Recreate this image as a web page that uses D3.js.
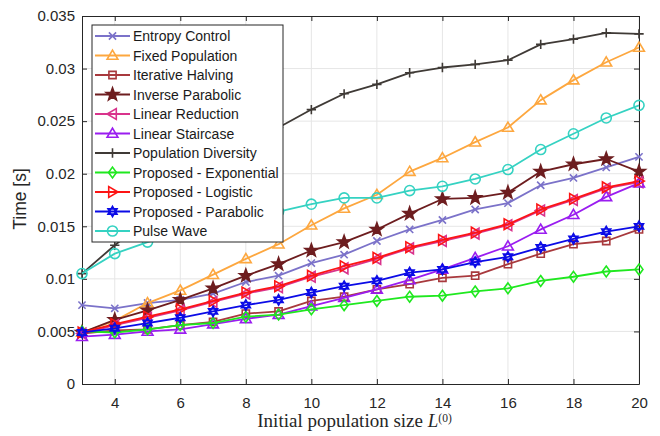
<!DOCTYPE html>
<html>
<head>
<meta charset="utf-8">
<script src="https://cdn.jsdelivr.net/npm/d3@7"></script>
<style>
  html, body { margin: 0; padding: 0; background: #fff; }
  svg { display: block; }
</style>
</head>
<body>
<svg id="chart"></svg>
<script>
// Initial population size L(0)
const popSizes = [3, 4, 5, 6, 7, 8, 9, 10, 11, 12, 13, 14, 15, 16, 17, 18, 19, 20];

// Time [s] per strategy
const entropyControl   = [0.0075, 0.0072, 0.0077, 0.0080, 0.0086, 0.0097, 0.0103, 0.0115, 0.0123, 0.0136, 0.0147, 0.0156, 0.0166, 0.0172, 0.0189, 0.0196, 0.0206, 0.0216];
const fixedPopulation  = [0.0049, 0.0060, 0.0077, 0.0089, 0.0104, 0.0119, 0.0133, 0.0151, 0.0167, 0.0180, 0.0202, 0.0215, 0.0230, 0.0244, 0.0270, 0.0289, 0.0306, 0.0320];
const iterHalving      = [0.0048, 0.0051, 0.0052, 0.0056, 0.0059, 0.0067, 0.0069, 0.0079, 0.0083, 0.0090, 0.0095, 0.0101, 0.0103, 0.0114, 0.0124, 0.0133, 0.0136, 0.0147];
const inverseParabolic = [0.0049, 0.0061, 0.0070, 0.0080, 0.0091, 0.0103, 0.0114, 0.0127, 0.0135, 0.0147, 0.0162, 0.0176, 0.0177, 0.0182, 0.0202, 0.0209, 0.0214, 0.0202];
const linearReduction  = [0.0048, 0.0056, 0.0063, 0.0070, 0.0078, 0.0086, 0.0092, 0.0102, 0.0110, 0.0119, 0.0129, 0.0136, 0.0143, 0.0151, 0.0165, 0.0175, 0.0186, 0.0192];
const linearStaircase  = [0.0045, 0.0047, 0.0050, 0.0052, 0.0057, 0.0062, 0.0066, 0.0074, 0.0082, 0.0090, 0.0099, 0.0109, 0.0120, 0.0131, 0.0147, 0.0161, 0.0178, 0.0191];
const popDiversity     = [0.0105, 0.0132, 0.0157, 0.0181, 0.0204, 0.0225, 0.0244, 0.0261, 0.0276, 0.0285, 0.0296, 0.0301, 0.0304, 0.0308, 0.0323, 0.0328, 0.0334, 0.0333];
const propExponential  = [0.0050, 0.0049, 0.0052, 0.0056, 0.0058, 0.0064, 0.0066, 0.0071, 0.0075, 0.0079, 0.0083, 0.0084, 0.0088, 0.0091, 0.0098, 0.0102, 0.0107, 0.0109];
const propLogistic     = [0.0049, 0.0057, 0.0064, 0.0071, 0.0079, 0.0087, 0.0093, 0.0103, 0.0112, 0.0120, 0.0130, 0.0137, 0.0144, 0.0152, 0.0166, 0.0176, 0.0187, 0.0193];
const propParabolic    = [0.0049, 0.0053, 0.0058, 0.0063, 0.0069, 0.0075, 0.0080, 0.0087, 0.0093, 0.0098, 0.0106, 0.0109, 0.0116, 0.0121, 0.0130, 0.0138, 0.0145, 0.0150];
const pulseWave        = [0.0105, 0.0124, 0.0135, 0.0143, 0.0151, 0.0158, 0.0164, 0.0171, 0.0177, 0.0177, 0.0184, 0.0188, 0.0195, 0.0204, 0.0223, 0.0238, 0.0253, 0.0265];

const xTicks = [4, 6, 8, 10, 12, 14, 16, 18, 20];
const yTicks = [0, 0.005, 0.01, 0.015, 0.02, 0.025, 0.03, 0.035];

const series = [
  { name: 'Entropy Control',          values: entropyControl,   color: '#7b72c9', marker: 'x' },
  { name: 'Fixed Population',         values: fixedPopulation,  color: '#fda73f', marker: 'tri-up' },
  { name: 'Iterative Halving',        values: iterHalving,      color: '#a8393d', marker: 'square' },
  { name: 'Inverse Parabolic',        values: inverseParabolic, color: '#6d1d1f', marker: 'star', filled: true },
  { name: 'Linear Reduction',         values: linearReduction,  color: '#d9338c', marker: 'tri-left' },
  { name: 'Linear Staircase',         values: linearStaircase,  color: '#9a1df0', marker: 'tri-up' },
  { name: 'Population Diversity',     values: popDiversity,     color: '#3f3a36', marker: 'plus' },
  { name: 'Proposed - Exponential',   values: propExponential,  color: '#1fe81f', marker: 'diamond' },
  { name: 'Proposed - Logistic',      values: propLogistic,     color: '#fd1414', marker: 'tri-right' },
  { name: 'Proposed - Parabolic',     values: propParabolic,    color: '#0b0be6', marker: 'hexagram' },
  { name: 'Pulse Wave',               values: pulseWave,        color: '#35d2c2', marker: 'circle' }
];

// marker path around (0,0)
function markerPath(type, s) {
  switch (type) {
    case 'x': return `M${-s},${-s}L${s},${s}M${-s},${s}L${s},${-s}`;
    case 'plus': return `M${-s * 1.3},0H${s * 1.3}M0,${-s * 1.3}V${s * 1.3}`;
    case 'square': return `M${-s},${-s}H${s}V${s}H${-s}Z`;
    case 'tri-up': return `M0,${-s * 1.5}L${s * 1.5},${s * 1.05}L${-s * 1.5},${s * 1.05}Z`;
    case 'tri-left': return `M${-s * 1.5},0L${s * 1.05},${-s * 1.5}L${s * 1.05},${s * 1.5}Z`;
    case 'tri-right': return `M${s * 1.5},0L${-s * 1.05},${-s * 1.5}L${-s * 1.05},${s * 1.5}Z`;
    case 'diamond': return `M0,${-s * 1.5}L${s * 1.1},0L0,${s * 1.5}L${-s * 1.1},0Z`;
    case 'circle': return d3.arc()({ innerRadius: 0, outerRadius: s * 1.4, startAngle: 0, endAngle: 2 * Math.PI });
    case 'star': {
      const pts = [];
      for (let i = 0; i < 10; i++) {
        const r = i % 2 === 0 ? s * 1.85 : s * 0.75;
        const a = -Math.PI / 2 + i * Math.PI / 5;
        pts.push([r * Math.cos(a), r * Math.sin(a)]);
      }
      return 'M' + pts.map(p => p.join(',')).join('L') + 'Z';
    }
    case 'hexagram': {
      const r = s * 1.45;
      const tri = off => [0, 1, 2].map(i => {
        const a = off + i * 2 * Math.PI / 3;
        return [r * Math.cos(a), r * Math.sin(a)];
      });
      const t1 = tri(-Math.PI / 2), t2 = tri(Math.PI / 2);
      return 'M' + t1.map(p => p.join(',')).join('L') + 'Z' +
             'M' + t2.map(p => p.join(',')).join('L') + 'Z';
    }
  }
}

const W = 660, H = 436;
const margin = { top: 16, right: 21, bottom: 52, left: 82 };
const width = W - margin.left - margin.right;
const height = H - margin.top - margin.bottom;

const svg = d3.select('#chart').attr('width', W).attr('height', H);
const g = svg.append('g').attr('transform', `translate(${margin.left},${margin.top})`);

const x = d3.scaleLinear().domain([3, 20]).range([0, width]);
const y = d3.scaleLinear().domain([0, 0.035]).range([height, 0]);

const axisColor = '#262626';
const fontSans = 'Liberation Sans, Arial, sans-serif';

// Grid
g.append('g')
  .selectAll('line').data(xTicks).join('line')
  .attr('x1', d => x(d)).attr('x2', d => x(d))
  .attr('y1', 0).attr('y2', height)
  .attr('stroke', '#e6e6e6').attr('stroke-width', 1);

g.append('g')
  .selectAll('line').data(yTicks.slice(1, -1)).join('line')
  .attr('x1', 0).attr('x2', width)
  .attr('y1', d => y(d)).attr('y2', d => y(d))
  .attr('stroke', '#e6e6e6').attr('stroke-width', 1);

// Axes (MATLAB-style box with inward ticks)
const fmtY = d => d === 0 ? '0' : String(+d.toFixed(3));

g.append('g').attr('transform', `translate(0,${height})`)
  .call(d3.axisBottom(x).tickValues(xTicks).tickSizeInner(-5).tickSizeOuter(0).tickPadding(13))
  .call(ax => ax.select('.domain').attr('stroke', axisColor))
  .call(ax => ax.selectAll('line').attr('stroke', axisColor))
  .call(ax => ax.selectAll('text').attr('fill', '#262626').attr('font-size', 15).attr('font-family', fontSans));

g.append('g')
  .call(d3.axisLeft(y).tickValues(yTicks).tickFormat(fmtY).tickSizeInner(-5).tickSizeOuter(0).tickPadding(7))
  .call(ax => ax.select('.domain').attr('stroke', axisColor))
  .call(ax => ax.selectAll('line').attr('stroke', axisColor))
  .call(ax => ax.selectAll('text').attr('fill', '#262626').attr('font-size', 15).attr('font-family', fontSans));

g.append('g')
  .call(d3.axisTop(x).tickValues(xTicks).tickSizeInner(-5).tickSizeOuter(0).tickFormat(''))
  .call(ax => ax.select('.domain').attr('stroke', axisColor))
  .call(ax => ax.selectAll('line').attr('stroke', axisColor));

g.append('g').attr('transform', `translate(${width},0)`)
  .call(d3.axisRight(y).tickValues(yTicks).tickSizeInner(-5).tickSizeOuter(0).tickFormat(''))
  .call(ax => ax.select('.domain').attr('stroke', axisColor))
  .call(ax => ax.selectAll('line').attr('stroke', axisColor));

// Axis labels
const xLabel = g.append('text')
  .attr('x', width / 2 - 6).attr('y', height + 43)
  .attr('text-anchor', 'middle').attr('fill', '#262626')
  .attr('font-family', 'Liberation Serif, Times New Roman, serif').attr('font-size', 19);
xLabel.append('tspan').text('Initial population size ');
xLabel.append('tspan').attr('font-style', 'italic').text('L');
xLabel.append('tspan').attr('font-size', 11.5).attr('dy', -5.5).text('(0)');

g.append('text')
  .attr('transform', 'rotate(-90)')
  .attr('x', -height / 2 + 1).attr('y', -56)
  .attr('text-anchor', 'middle').attr('fill', '#262626')
  .attr('font-family', fontSans).attr('font-size', 17.5)
  .text('Time [s]');

// Lines and markers
const line = d3.line().x((d, i) => x(popSizes[i])).y(d => y(d));

series.forEach(s => {
  const sg = g.append('g');
  sg.append('path')
    .datum(s.values)
    .attr('d', line)
    .attr('fill', 'none')
    .attr('stroke', s.color)
    .attr('stroke-width', 1.8)
    .attr('stroke-linejoin', 'round');
  sg.selectAll('path.mk')
    .data(s.values)
    .join('path')
    .attr('class', 'mk')
    .attr('transform', (d, i) => `translate(${x(popSizes[i])},${y(d)})`)
    .attr('d', markerPath(s.marker, 3.6))
    .attr('fill', s.filled ? s.color : 'none')
    .attr('stroke', s.color)
    .attr('stroke-width', 1.6)
    .attr('stroke-linejoin', 'miter');
});

// Legend
const legend = svg.append('g').attr('transform', 'translate(92,25)');
const rowH = 19.5;
legend.append('rect')
  .attr('x', 0).attr('y', 0)
  .attr('width', 191).attr('height', 217)
  .attr('fill', '#fff').attr('stroke', '#262626').attr('stroke-width', 1);

const rows = legend.selectAll('g.row')
  .data(series)
  .join('g')
  .attr('class', 'row')
  .attr('transform', (d, i) => `translate(0,${11 + i * rowH})`);

rows.append('line')
  .attr('x1', 3).attr('x2', 38).attr('y1', 0).attr('y2', 0)
  .attr('stroke', d => d.color).attr('stroke-width', 1.8);

rows.append('path')
  .attr('transform', 'translate(20.5,0)')
  .attr('d', d => markerPath(d.marker, 3.6))
  .attr('fill', d => d.filled ? d.color : 'none')
  .attr('stroke', d => d.color)
  .attr('stroke-width', 1.6);

rows.append('text')
  .attr('x', 41).attr('y', 0).attr('dy', '0.36em')
  .attr('fill', '#1a1a1a')
  .attr('font-family', fontSans).attr('font-size', 14)
  .text(d => d.name);
</script>
</body>
</html>
